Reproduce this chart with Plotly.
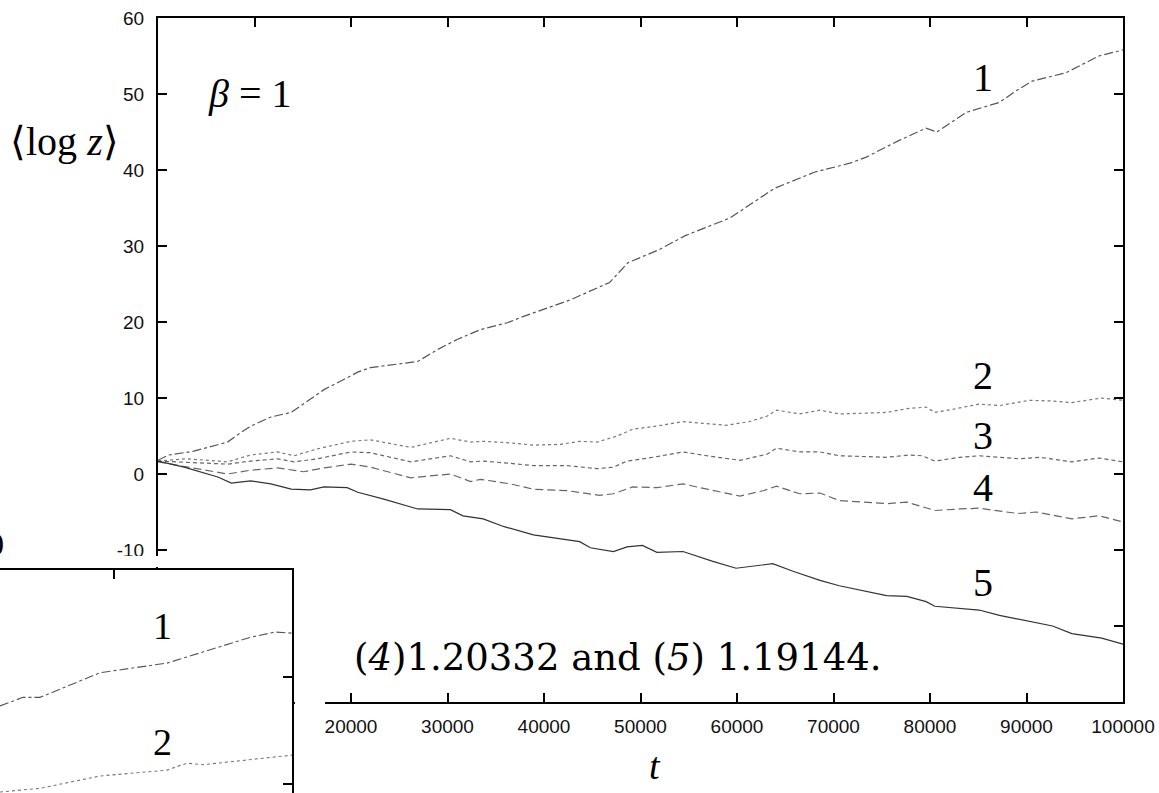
import plotly.graph_objects as go

W, H = 1159, 793


def px(x):
    return x / W


def py(y):
    return 1 - y / H


# ---------------- main panel data (beta = 1) ----------------
t1 = [0, 1100, 3700, 7200, 8300, 9600, 11700, 13800, 15500, 17200, 19200, 20700, 22000, 24400,
      26900, 29000, 31000, 33400, 36200, 37600, 42700, 46800, 48700, 51900, 54700, 59300, 63900,
      68000, 71700, 73400, 76800, 79600, 80700, 83800, 87200, 88900, 90600, 94100, 97500, 100000]
v1 = [1.8, 2.5, 3.0, 4.2, 5.2, 6.3, 7.5, 8.1, 9.6, 11.1, 12.4, 13.4, 14.0, 14.4,
      14.8, 16.4, 17.7, 19.0, 19.9, 20.6, 22.9, 25.2, 27.8, 29.5, 31.4, 33.7, 37.6,
      39.7, 40.9, 41.7, 43.9, 45.5, 45.0, 47.6, 48.9, 50.4, 51.7, 52.8, 55.0, 55.8]

t2 = [0, 3000, 7200, 9600, 12400, 14100, 16500, 20000, 22000, 26200, 30300, 32400, 33700, 36500,
      38900, 41700, 43700, 45500, 47600, 49200, 51700, 54400, 56200, 58900, 61300, 63100, 64100,
      66500, 68600, 70600, 75500, 77600, 79600, 80500, 82300, 85100, 87200, 90300, 92700, 94700,
      97800, 100000]
v2 = [1.7, 2.0, 1.6, 2.5, 2.9, 2.4, 3.3, 4.3, 4.5, 3.5, 4.7, 4.2, 4.3, 4.1,
      3.8, 3.9, 4.3, 4.2, 5.0, 5.9, 6.3, 6.9, 6.7, 6.4, 6.9, 7.6, 8.4,
      7.9, 8.4, 7.9, 8.1, 8.6, 8.8, 8.1, 8.5, 9.2, 9.0, 9.7, 9.6, 9.4,
      10.0, 9.7]

t3 = [0, 7200, 9600, 12400, 14100, 16500, 20000, 22000, 26200, 30300, 32400, 33700, 36500,
      38900, 42400, 45500, 47200, 48600, 51300, 54400, 56900, 60300, 63100, 64100, 66500, 68600,
      70600, 75500, 77900, 79200, 80500, 83100, 85100, 89200, 91300, 94700, 97500, 100000]
v3 = [1.7, 1.3, 1.7, 2.0, 1.6, 2.0, 2.9, 2.8, 1.6, 2.4, 1.6, 1.7, 1.4,
      1.1, 1.1, 0.7, 0.9, 1.7, 2.2, 2.9, 2.4, 1.8, 2.6, 3.4, 2.9, 2.9,
      2.4, 2.2, 2.5, 2.4, 1.7, 2.2, 2.4, 2.0, 2.2, 1.6, 2.1, 1.6]

t4 = [0, 7200, 9600, 12400, 15100, 17200, 20000, 22000, 26200, 30300, 32400, 33400, 36500,
      38900, 42400, 45800, 47200, 49200, 51700, 54400, 56900, 60300, 62700, 64100, 66500, 68600,
      70600, 75500, 77600, 78900, 80500, 83100, 85100, 87900, 89200, 91000, 94700, 97500, 100000]
v4 = [1.6, 0.0, 0.5, 0.8, 0.3, 0.8, 1.3, 0.9, -0.5, 0.0, -1.0, -0.7, -1.3,
      -2.0, -2.2, -2.8, -2.6, -1.7, -1.8, -1.3, -2.0, -2.9, -2.2, -1.6, -2.6, -2.5,
      -3.5, -3.9, -3.7, -4.2, -4.8, -4.6, -4.5, -5.0, -5.2, -5.0, -5.9, -5.5, -6.3]

t5 = [0, 2700, 6200, 7600, 9600, 11700, 13800, 15800, 17200, 19600, 20700, 23400, 26900,
      30300, 31600, 33700, 35800, 38900, 43700, 44800, 47200, 48600, 50200, 51700, 54400, 57500,
      59900, 61600, 63700, 65800, 68600, 70600, 75500, 77600, 79600, 80500, 83100, 85100, 87200,
      90300, 92700, 94700, 97800, 100000]
v5 = [1.7, 0.9, -0.4, -1.2, -0.9, -1.3, -2.0, -2.1, -1.7, -1.8, -2.4, -3.3, -4.6,
      -4.7, -5.5, -5.9, -6.9, -8.0, -8.9, -9.7, -10.2, -9.6, -9.4, -10.3, -10.2, -11.5,
      -12.4, -12.1, -11.8, -12.8, -14.0, -14.7, -16.0, -16.1, -16.8, -17.4, -17.7, -17.9, -18.6,
      -19.4, -20.0, -21.0, -21.6, -22.4]

# ---------------- inset fragment data ----------------
ti1 = [83600, 84890, 85850, 89220, 92980, 97640, 99040, 100000]
vi1 = [27.3, 28.1, 28.1, 30.4, 31.3, 33.7, 34.2, 34.1]
ti2 = [83600, 85850, 89220, 92980, 94100, 95000, 100000]
vi2 = [19.25, 19.6, 20.75, 21.3, 21.95, 21.8, 22.7]

# tick labels; those hidden behind the inset in the reference are left blank
x_ticks = list(range(0, 100001, 10000))
x_tick_labels = ["", ""] + [str(v) for v in range(20000, 100001, 10000)]
y_ticks = list(range(-30, 61, 10))
y_tick_labels = ["", ""] + [str(v) for v in range(-10, 61, 10)]

curve_labels = ["1", "2", "3", "4", "5"]
label_t = [85500, 85500, 85500, 85500, 85500]
label_v = [52.2, 12.9, 5.1, -1.8, -14.3]

fig = go.Figure()

styles = [
    (t1, v1, "#555555", "dashdot"),
    (t2, v2, "#777777", "dot"),
    (t3, v3, "#666666", "4px,3px"),
    (t4, v4, "#666666", "8px,4px"),
    (t5, v5, "#333333", "solid"),
]
for tx, vy, col, dash in styles:
    fig.add_trace(go.Scatter(x=tx, y=vy, mode="lines",
                             line=dict(color=col, width=1.2, dash=dash),
                             xaxis="x", yaxis="y", hoverinfo="skip"))

fig.add_trace(go.Scatter(x=ti1, y=vi1, mode="lines",
                         line=dict(color="#555555", width=1.1, dash="dashdot"),
                         xaxis="x2", yaxis="y2", hoverinfo="skip"))
fig.add_trace(go.Scatter(x=ti2, y=vi2, mode="lines",
                         line=dict(color="#777777", width=1.1, dash="dot"),
                         xaxis="x2", yaxis="y2", hoverinfo="skip"))

tickfont = dict(family="Liberation Sans, Arial, sans-serif", size=19, color="#111111")
axis_common = dict(showline=True, linewidth=2, linecolor="black", ticks="inside",
                   ticklen=9, tickwidth=1.5, tickcolor="black", showgrid=False,
                   zeroline=False, mirror="ticks", tickfont=tickfont, automargin=False)

fig.update_layout(
    width=W, height=H, autosize=False,
    margin=dict(l=0, r=0, t=0, b=0, pad=0, autoexpand=False),
    paper_bgcolor="white", plot_bgcolor="rgb(255,255,255)",
    showlegend=False,
    xaxis=dict(domain=[px(158), px(1123)], range=[0, 100000], tickvals=x_ticks,
               ticktext=x_tick_labels, anchor="y", ticklabelstandoff=6, **axis_common),
    yaxis=dict(domain=[py(702), py(18)], range=[-30, 60], tickvals=y_ticks,
               ticktext=y_tick_labels, anchor="x", ticklabelstandoff=8, **axis_common),
    xaxis2=dict(domain=[0, px(292)], anchor="y2", side="top", range=[83600, 100000],
                tickvals=[90000], showticklabels=False, showline=True, linewidth=2,
                linecolor="black", ticks="inside", ticklen=9, tickwidth=1.5,
                tickcolor="black", showgrid=False, zeroline=False, automargin=False),
    yaxis2=dict(domain=[0, py(570)], anchor="x2", side="right", range=[19.16, 40],
                tickvals=[20, 30], showticklabels=False, showline=True, linewidth=2,
                linecolor="black", ticks="inside", ticklen=9, tickwidth=1.5,
                tickcolor="black", showgrid=False, zeroline=False, automargin=False),
)

serif = "Liberation Serif, Times New Roman, serif"
ann = []
for lab, lt, lv in zip(curve_labels, label_t, label_v):
    ann.append(dict(x=lt, y=lv, xref="x", yref="y", text=lab, showarrow=False,
                    xanchor="center", yanchor="middle",
                    font=dict(family=serif, size=40, color="black")))
for lab, lv in zip(["1", "2"], [34.8, 23.9]):
    ann.append(dict(x=92700, y=lv, xref="x2", yref="y2", text=lab, showarrow=False,
                    xanchor="center", yanchor="middle",
                    font=dict(family=serif, size=38, color="black")))
ann.append(dict(x=9500, y=50, xref="x", yref="y", text="<i>β</i> = 1", showarrow=False,
                xanchor="center", yanchor="middle",
                font=dict(family=serif, size=40, color="black")))
ann.append(dict(x=px(64), y=py(141), xref="paper", yref="paper", text="⟨log <i>z</i>⟩",
                showarrow=False, xanchor="center", yanchor="middle",
                font=dict(family=serif, size=40, color="black")))
ann.append(dict(x=px(655), y=py(766), xref="paper", yref="paper", text="<i>t</i>",
                showarrow=False, xanchor="center", yanchor="middle",
                font=dict(family=serif, size=38, color="black")))
ann.append(dict(x=px(352), y=py(657), xref="paper", yref="paper", xanchor="left",
                yanchor="middle",
                text="(<i>4</i>)1.20332 and (<i>5</i>) 1.19144.", showarrow=False,
                font=dict(family="DejaVu Serif, serif", size=37, color="black")))
ann.append(dict(x=px(6), y=py(544), xref="paper", yref="paper", xanchor="right",
                yanchor="middle", text="0", showarrow=False,
                font=dict(family=serif, size=32, color="black")))
fig.update_layout(annotations=ann)

shapes = [
    dict(type="rect", xref="paper", yref="paper", x0=0, x1=px(325), y0=py(567), y1=py(556),
         fillcolor="white", line=dict(width=0), layer="above"),
    dict(type="rect", xref="paper", yref="paper", x0=px(295), x1=px(325), y0=0, y1=py(556),
         fillcolor="white", line=dict(width=0), layer="above"),
]
fig.update_layout(shapes=shapes)

fig.write_html("out.html")
